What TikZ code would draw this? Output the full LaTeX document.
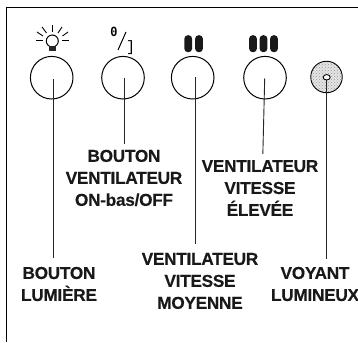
\documentclass[tikz,border=0pt]{standalone}
\usepackage{fontspec}
\usetikzlibrary{shapes.geometric,patterns}
\setmainfont{Liberation Sans}
\newfontfamily\symbfont{Liberation Mono}
\newfontfamily\lblfont[FakeBold=0.35,LetterSpace=-1.5]{Liberation Sans}
\tikzset{
  button/.style={draw,circle,line width=1pt,minimum size=42.6pt,inner sep=0pt},
  lbl/.style={font=\lblfont\bfseries\fontsize{17.2}{22}\selectfont,align=center,inner sep=0pt,text=black!90},
  leader/.style={line width=0.9pt,black!85},
  speedbar/.style={fill=black!90,rounded corners=3.6pt,draw=none,minimum width=7.8pt,minimum height=17pt,inner sep=0pt},
  ray/.style={line width=0.9pt}
}
\begin{document}
\begin{tikzpicture}[x=1pt,y=-1pt]
\useasboundingbox (0,0) rectangle (358,342);
% frame
\draw[line width=1pt] (358,8) -- (6.5,8) -- (6.5,342);
% buttons
\node [button] (0) at (51.7,77.7) {};
\node [button] (1) at (123,77.7) {};
\node [button] (2) at (192.7,77.7) {};
\node [button] (3) at (265,77.7) {};
\node [draw,circle,line width=0.9pt,preaction={fill=black!10},pattern=crosshatch dots,pattern color=black!40,minimum size=31.5pt,inner sep=0pt] (4) at (326.5,77) {};
\node [draw,ellipse,line width=0.9pt,fill=white,minimum width=7pt,minimum height=5.4pt,inner sep=0pt] (5) at (326.7,77.3) {};
% lamp symbol
\draw[line width=1pt] (52.3,41) circle (6);
\draw[fill=black!85,draw=none] (49,46) rectangle (56,51);
\draw[ray] (36,40) -- (43,40);
\draw[ray] (62,40) -- (69,40);
\draw[ray] (52.3,25) -- (52.3,32);
\draw[ray] (37,32) -- (43,36);
\draw[ray] (42,27) -- (46.5,33);
\draw[ray] (58,33) -- (62,27);
\draw[ray] (62.5,36) -- (68,32);
% on off symbol
\node [inner sep=0pt,xscale=0.85,font=\symbfont\bfseries\fontsize{14}{14}\selectfont] (6) at (114,32) {0};
\node [inner sep=0pt,font=\symbfont\fontsize{15}{15}\selectfont] (7) at (130.5,47.5) {]};
\draw[line width=1pt] (118,50) -- (126,32);
% speed symbols
\node [speedbar] (8) at (188.2,43.7) {};
\node [speedbar] (9) at (199,43.7) {};
\node [speedbar] (10) at (253,43.7) {};
\node [speedbar] (11) at (263.5,43.7) {};
\node [speedbar] (12) at (274,43.7) {};
% labels
\node [lbl] (13) at (59,284) {BOUTON\\LUMIÈRE};
\node [lbl] (14) at (124,178) {BOUTON\\VENTILATEUR\\ON-bas/OFF};
\node [lbl] (15) at (200,281) {VENTILATEUR\\VITESSE\\MOYENNE};
\node [lbl] (16) at (260,188) {VENTILATEUR\\VITESSE\\ÉLEVÉE};
\node [lbl] (17) at (315,284) {VOYANT\\LUMINEUX};
% leaders
\coordinate (18) at (53,79);
\coordinate (19) at (124,78);
\coordinate (20) at (195.7,77.5);
\coordinate (21) at (264.7,78.5);
\draw [leader,shorten >=9pt] (18) to (18 |- 13.north);
\draw [leader,shorten >=6pt] (19) to (19 |- 14.north);
\draw [leader,shorten >=9pt] (20) to (20 |- 15.north);
\draw [leader,shorten >=6pt] (21) to ([xshift=2.7pt]16.north);
\draw [leader,shorten >=8pt] (5.south) to (5.south |- 17.north);
\end{tikzpicture}
\end{document}
